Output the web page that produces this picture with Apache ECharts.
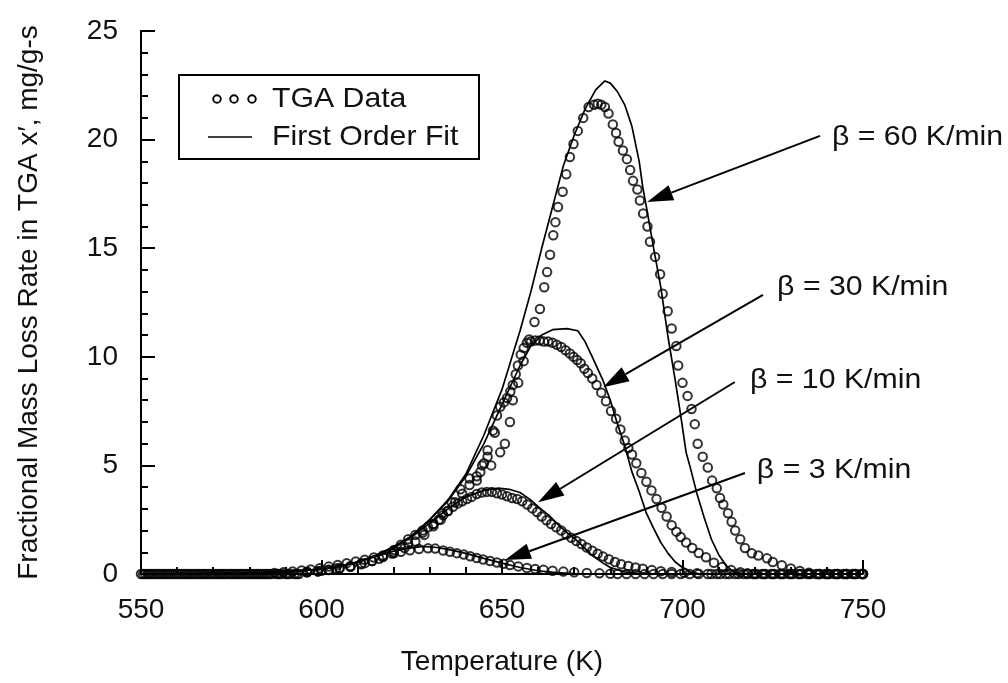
<!DOCTYPE html>
<html><head><meta charset="utf-8">
<script src="https://cdn.jsdelivr.net/npm/echarts@6/dist/echarts.min.js"></script>
<style>html,body{margin:0;padding:0;background:#fff}#c{width:1008px;height:683px}</style>
</head><body><div id="c"></div>
<script>
// ---------- data ----------
const fit60 = [[550,0],[580,0.03],[590,0.1],[600,0.22],[605,0.35],[610,0.55],[615,0.85],[620,1.25],[625,1.75],[630,2.5],[635,3.4],[640,4.6],[645,6.4],[650,8.5],[655,11.2],[658,13.0],[661,15.0],[664,16.9],[667,18.8],[670,20.2],[673,21.4],[676,22.3],[678.5,22.7],[680,22.6],[682,22.2],[684,21.6],[686,20.6],[688,19.0],[689,17.8],[690,16.9],[692,15.0],[694,13.2],[696,10.9],[698,8.9],[699.5,7.3],[701,5.6],[702,5.0],[704,3.7],[706,2.6],[708,1.6],[710,0.9],[712,0.4],[714,0.12],[716,0.02],[720,0],[750,0]];
const fit30 = [[550,0],[580,0.03],[590,0.1],[600,0.22],[605,0.35],[610,0.55],[615,0.85],[620,1.25],[625,1.75],[630,2.5],[635,3.35],[640,4.5],[645,6.0],[650,7.8],[655,9.6],[658,10.5],[661,11.0],[664,11.25],[668,11.3],[671,11.2],[673,10.7],[675,10.0],[678,8.9],[680,8.0],[682,6.9],[684,5.9],[686,4.7],[688,3.8],[690,2.8],[692,2.1],[694,1.45],[696,0.95],[698,0.55],[700,0.3],[702,0.1],[705,0],[750,0]];
const fit10 = [[550,0],[580,0.03],[590,0.1],[600,0.22],[605,0.35],[610,0.55],[615,0.85],[620,1.2],[625,1.7],[630,2.35],[635,3.0],[640,3.55],[645,3.85],[649,3.95],[652,3.9],[655,3.75],[658,3.4],[660,3.1],[663,2.7],[666,2.2],[668,1.9],[671,1.5],[675,0.85],[678,0.5],[680,0.3],[684,0.1],[688,0.02],[692,0],[750,0]];
const fit3 = [[550,0],[580,0.03],[590,0.1],[600,0.22],[605,0.35],[610,0.55],[615,0.8],[620,1.05],[625,1.2],[628,1.27],[632,1.22],[636,1.1],[640,0.95],[645,0.72],[650,0.5],[655,0.3],[660,0.15],[665,0.06],[670,0.02],[675,0],[750,0]];

const zeroT60 = [550,552.5,555,557.5,560,562.5,565,567.5,570,572.5,575,577.5,580,582.5,585,587.5,590,592.5,738,740.5,743,745.5,748,750];
const tga60 = [[596,0.1],[600,0.15],[604,0.25],[608,0.35],[612,0.5],[616,0.7],[620,1.0],[624,1.4],[628,1.9],[631,2.3],[633.5,2.8],[636,3.3],[638.5,3.9],[641,4.4],[643,4.3],[644,4.7],[645,5.1],[646,5.4],[647,5.0],[648,6.5],[649.5,5.6],[650.8,6.0],[652.2,7.0],[653,8.0],[654.5,8.8],[656,9.8],[657.5,10.8],[659,11.6],[660.5,12.2],[661.7,13.2],[662.5,13.9],[663.3,14.7],[664.2,15.6],[664.8,16.2],[665.5,16.9],[666.8,17.6],[667.8,18.4],[668.8,19.2],[669.8,19.8],[671,20.4],[672.5,21.0],[674,21.5],[675.5,21.6],[676.5,21.65],[677.5,21.6],[678.5,21.5],[679.5,21.2],[680.7,20.7],[681.6,20.3],[682.3,19.9],[683.5,19.5],[684.6,19.1],[685.5,18.6],[686.3,18.1],[687.5,17.7],[688.2,17.2],[689.1,16.6],[690.3,16.0],[691,15.3],[692.4,14.6],[693.8,13.8],[694.5,12.9],[695.9,12.1],[697,11.3],[698.3,10.5],[698.8,9.6],[700,8.8],[701.4,8.2],[702.5,7.6],[703.4,6.9],[704.2,6.0],[705.6,5.4],[707,4.9],[708.2,4.3],[709.5,3.95],[710.4,3.5],[711.3,3.2],[712.6,2.8],[713.6,2.4],[714.6,2.0],[716,1.6],[717.3,1.2],[719.2,0.95],[721,0.85],[723.4,0.72],[725,0.55],[727.5,0.4],[730,0.25],[732.5,0.14],[735,0.06]];

const zeroT30 = [551.25,553.75,556.25,558.75,561.25,563.75,566.25,568.75,571.25,573.75,576.25,578.75,581.25,583.75,586.25,588.75,591.25,593.75,720,722.5,725,727.5,730,732.5,735,737.5,740,742.5,745,747.5,750];
const tga30 = [[596,0.08],[599,0.12],[602,0.2],[605,0.28],[608,0.36],[611,0.48],[614,0.6],[617,0.78],[620,0.95],[623,1.2],[626,1.5],[628.5,1.8],[631,2.2],[633,2.5],[635,2.9],[637,3.3],[639,3.7],[641,4.1],[643,4.5],[644.5,5.0],[646,5.7],[647.5,6.6],[648.6,7.3],[649.5,7.7],[650.5,7.9],[651.4,8.1],[652.3,8.4],[653,8.7],[653.8,9.2],[654.4,9.6],[655.2,10.1],[656,10.4],[656.9,10.65],[658,10.7],[659.2,10.75],[660.4,10.75],[661.6,10.7],[662.8,10.7],[664,10.65],[665.2,10.55],[666.4,10.45],[667.6,10.3],[668.8,10.15],[669.8,10.0],[670.8,9.85],[671.8,9.7],[672.8,9.45],[673.8,9.25],[675,9.0],[676.2,8.7],[677.5,8.35],[678.8,7.95],[680.2,7.5],[681.6,7.15],[682.8,6.65],[684,6.15],[685,5.8],[686,5.5],[687.2,5.1],[688.6,4.65],[690,4.25],[691.4,3.85],[692.8,3.45],[694.2,3.05],[695.6,2.65],[697,2.25],[698.3,1.95],[699.5,1.7],[701,1.45],[702.7,1.2],[704.5,0.97],[706.5,0.77],[708.7,0.52],[711,0.32],[713.5,0.18],[716,0.08],[718,0.03]];

const zeroT10 = [550.6,553.1,555.6,558.1,560.6,563.1,565.6,568.1,570.6,573.1,575.6,578.1,580.6,583.1,585.6,588.1,590.6,593.1,708,710.5,713,715.5,718,720.5,723,725.5,728,730.5,733,735.5,738,740.5,743,745.5,748,750];
const tga10 = [[596,0.08],[599,0.12],[602,0.18],[605,0.25],[608,0.33],[611,0.45],[614,0.6],[617,0.8],[620,1.1],[622,1.35],[624,1.6],[626,1.8],[628,2.0],[629.5,2.15],[631,2.3],[632.5,2.5],[633.7,2.7],[635,2.9],[636.4,3.1],[637.8,3.25],[639,3.35],[640.3,3.45],[641.6,3.55],[643,3.68],[644.4,3.75],[645.8,3.78],[647.2,3.78],[648.6,3.72],[650,3.66],[651.4,3.58],[652.8,3.5],[654.2,3.45],[655.6,3.35],[657,3.2],[658.4,3.02],[659.7,2.85],[661,2.65],[662.3,2.47],[663.6,2.3],[665,2.15],[666.4,2.0],[667.8,1.82],[669.2,1.67],[670.6,1.52],[672,1.38],[673.5,1.22],[675,1.07],[676.5,0.93],[678,0.8],[679.6,0.68],[681.3,0.55],[683,0.45],[685,0.37],[687,0.3],[689,0.24],[691.5,0.18],[694,0.13],[697,0.09],[700.5,0.06],[704,0.03]];

const zeroT3 = [551.9,554.4,556.9,559.4,561.9,564.4,566.9,569.4,571.9,574.4,576.9,579.4,581.9,584.4,682,684.5,687,689.5,692,694.5,697,699.5,702,704.5,707,709.5,712,714.5,717,719.5,722,724.5,727,729.5,732,734.5,737,739.5,742,744.5,747,749.5];
const tga3 = [[587,0.05],[589.5,0.08],[592,0.12],[594.5,0.16],[597,0.21],[599.5,0.27],[602,0.34],[604.5,0.42],[607,0.5],[609.5,0.58],[612,0.66],[614.5,0.76],[617,0.85],[619.5,0.94],[622,1.02],[624.5,1.09],[627,1.15],[629.5,1.18],[631.5,1.17],[633.7,1.08],[635.6,1.02],[637.5,0.96],[639.4,0.9],[641.2,0.82],[643,0.74],[644.8,0.67],[646.7,0.6],[648.6,0.53],[650.4,0.47],[652.2,0.41],[654.5,0.35],[656.9,0.28],[659.2,0.23],[661.5,0.19],[664,0.15],[667,0.11],[670,0.08],[673.5,0.05],[677,0.03],[680,0.015]];

const annoLabels = ['β = 60 K/min','β = 30 K/min','β = 10 K/min','β = 3 K/min'];
const annoTextPos = [[741.4,20.1],[726.2,13.2],[718.7,8.93],[720.6,4.79]];
const annoFrom = [[738.1,20.17],[722.3,12.85],[714.5,8.84],[717.3,4.65]];
const annoTip = [[690.2,17.13],[678,8.6],[660,3.3],[650.8,0.64]];

const xTicks = {min:550, max:750, step:50};
const yTicks = {min:0, max:25, step:5};
const legendNames = ['TGA Data','First Order Fit'];
const xName = 'Temperature (K)';
const yName = 'Fractional Mass Loss Rate in TGA x′, mg/g-s';

// ---------- chart ----------
const FONT = 'Liberation Sans';
const chart = echarts.init(document.getElementById('c'), null, {renderer:'canvas'});
const withZeros = (z, d) => z.map(t => [t, 0]).concat(d);
const scat = (name, data) => ({
  type:'scatter', name, data, symbol:'circle', symbolSize:8.5, silent:true, clip:false,
  itemStyle:{color:'rgba(0,0,0,0)', borderColor:'#000', borderWidth:2}, z:3
});
const line = (name, data) => ({
  type:'line', name, data, showSymbol:false, symbol:'none', silent:true,
  lineStyle:{color:'#000', width:1.7}, z:2
});
const axisCommon = {
  axisLine:{show:true, lineStyle:{color:'#000', width:2}},
  axisTick:{show:true, inside:true, length:14, lineStyle:{color:'#000', width:2}},
  minorTick:{show:true, splitNumber:5, length:7, lineStyle:{color:'#000', width:2}},
  splitLine:{show:false},
  axisLabel:{color:'#111', fontFamily:FONT, fontSize:28},
  nameTextStyle:{color:'#111', fontFamily:FONT, fontSize:28}
};
chart.setOption({
  animation:false,
  backgroundColor:'#fff',
  grid:{left:141, right:145, top:31, bottom:109, containLabel:false},
  xAxis:Object.assign({type:'value', min:xTicks.min, max:xTicks.max, interval:xTicks.step,
    name:xName, nameLocation:'middle', nameGap:74}, axisCommon,
    {axisLabel:Object.assign({}, axisCommon.axisLabel, {margin:22})}),
  yAxis:Object.assign({type:'value', min:yTicks.min, max:yTicks.max, interval:yTicks.step,
    name:yName, nameLocation:'middle', nameGap:98}, axisCommon,
    {axisLabel:Object.assign({}, axisCommon.axisLabel, {margin:23})}),
  series:[
    line('fit60', fit60), line('fit30', fit30), line('fit10', fit10), line('fit3', fit3),
    scat('tga60', withZeros(zeroT60, tga60)), scat('tga30', withZeros(zeroT30, tga30)),
    scat('tga10', withZeros(zeroT10, tga10)), scat('tga3', withZeros(zeroT3, tga3))
  ]
});

// annotations and legend
const g = [];
const txt = (x, y, s) => ({type:'text', x, y, scaleX:1.08, z:21,
  style:{text:s, fill:'#111', font:'28px "'+FONT+'"', textAlign:'left', textVerticalAlign:'middle'}});
for (let i = 0; i < annoLabels.length; i++) {
  const a = chart.convertToPixel({gridIndex:0}, annoFrom[i]);
  const b = chart.convertToPixel({gridIndex:0}, annoTip[i]);
  const t = chart.convertToPixel({gridIndex:0}, annoTextPos[i]);
  const dx = a[0]-b[0], dy = a[1]-b[1], L = Math.hypot(dx, dy);
  const ux = dx/L, uy = dy/L, hl = 26, hw = 8;
  const bx = b[0]+ux*hl, by = b[1]+uy*hl;
  g.push({type:'line', shape:{x1:a[0], y1:a[1], x2:bx, y2:by}, style:{stroke:'#000', lineWidth:2}, z:10});
  g.push({type:'polygon', shape:{points:[[b[0],b[1]],[bx-uy*hw, by+ux*hw],[bx+uy*hw, by-ux*hw]]}, style:{fill:'#000'}, z:10});
  g.push(txt(t[0], t[1], annoLabels[i]));
}
// legend box
g.push({type:'rect', shape:{x:179, y:75, width:300, height:84}, style:{fill:'#fff', stroke:'#000', lineWidth:2}, z:20});
[217, 234, 252].forEach(cx => g.push({type:'circle', shape:{cx, cy:99, r:3.8}, style:{fill:'none', stroke:'#000', lineWidth:1.9}, z:21}));
g.push({type:'line', shape:{x1:208, y1:137, x2:252, y2:137}, style:{stroke:'#000', lineWidth:1.7}, z:21});
g.push(txt(272, 99, legendNames[0]));
g.push(txt(272, 137, legendNames[1]));
chart.setOption({graphic:g});
</script></body></html>
